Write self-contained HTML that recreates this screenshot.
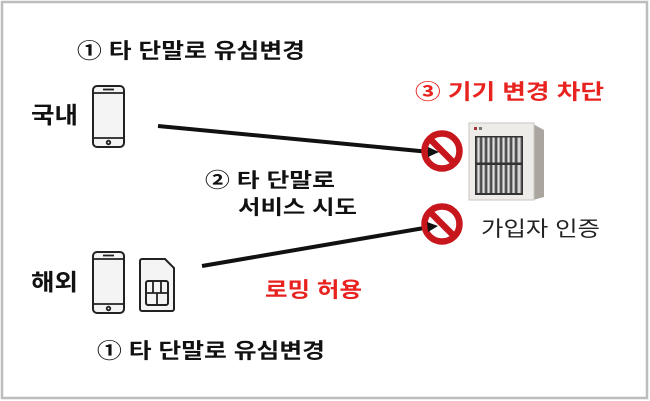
<!DOCTYPE html>
<html><head><meta charset="utf-8"><style>
html,body{margin:0;padding:0;background:#fff;}
svg{display:block;}
text{font-family:"Liberation Sans","Noto Sans CJK KR",sans-serif;}
</style></head><body>
<svg width="650" height="401" viewBox="0 0 650 401" xmlns="http://www.w3.org/2000/svg">
<defs>
<linearGradient id="dr" x1="0" x2="1" y1="0" y2="0">
<stop offset="0" stop-color="#555"/><stop offset="0.5" stop-color="#f2f2f2"/><stop offset="1" stop-color="#666"/>
</linearGradient>
</defs>
<rect x="2" y="2" width="645" height="396" fill="#fff" stroke="#bdbdbd" stroke-width="2.5"/>
<g font-weight="bold" fill="#111">
<text x="77" y="58" font-size="21" textLength="228" lengthAdjust="spacingAndGlyphs">① 타 단말로 유심변경</text>
<text x="31" y="123" font-size="23" textLength="47" lengthAdjust="spacingAndGlyphs">국내</text>
<text x="205" y="187" font-size="20" textLength="130" lengthAdjust="spacingAndGlyphs">② 타 단말로</text>
<text x="238" y="214" font-size="20" textLength="119" lengthAdjust="spacingAndGlyphs">서비스 시도</text>
<text x="31" y="290" font-size="23" textLength="47" lengthAdjust="spacingAndGlyphs">해외</text>
<text x="97" y="358" font-size="21" textLength="228" lengthAdjust="spacingAndGlyphs">① 타 단말로 유심변경</text>
</g>
<g font-weight="bold" fill="#e8231f">
<text x="415" y="99" font-size="21" textLength="189" lengthAdjust="spacingAndGlyphs">③  기기 변경 차단</text>
<text x="265" y="297" font-size="21" textLength="97" lengthAdjust="spacingAndGlyphs">로밍 허용</text>
</g>
<text x="481" y="236" font-size="21" fill="#222" textLength="119" lengthAdjust="spacingAndGlyphs">가입자 인증</text>

<g fill="#f4f4f4" stroke="#222" stroke-width="2">
<rect x="93" y="86" width="31" height="61" rx="4"/>
<rect x="93" y="252" width="31" height="61" rx="4"/>
</g>
<g stroke="#222" stroke-width="1.8" fill="none">
<line x1="93" y1="93" x2="124" y2="93"/><line x1="93" y1="138" x2="124" y2="138"/>
<line x1="93" y1="259" x2="124" y2="259"/><line x1="93" y1="304" x2="124" y2="304"/>
<line x1="103" y1="89.5" x2="114" y2="89.5"/><line x1="103" y1="255.5" x2="114" y2="255.5"/>
<circle cx="108.5" cy="142.5" r="1.8"/><circle cx="108.5" cy="308.5" r="1.8"/>
</g>
<path d="M142 259 H165 L174 268 V309 a2 2 0 0 1 -2 2 H142 a2 2 0 0 1 -2 -2 V261 a2 2 0 0 1 2 -2 Z" fill="#f4f4f4" stroke="#222" stroke-width="2"/>
<rect x="146" y="281" width="22" height="24" rx="2" fill="none" stroke="#222" stroke-width="2"/>
<path d="M146 293 H168 M153 281 V293 M161 281 V293 M157 293 V305" stroke="#222" stroke-width="1.8"/>

<line x1="158" y1="126" x2="430" y2="152" stroke="#111" stroke-width="4"/>
<line x1="202" y1="266" x2="430" y2="227" stroke="#111" stroke-width="4"/>

<path d="M533 124 L544 130 V197 L533 200 Z" fill="#aaa69f"/>
<rect x="469" y="123" width="65" height="77" fill="#eeece8" stroke="#c9c6c0"/>
<rect x="475" y="136" width="48" height="59" fill="#333"/>
<g fill="url(#dr)">
<rect x="476.5" y="137.5" width="4" height="25"/><rect x="481.5" y="137.5" width="4" height="25"/><rect x="486.5" y="137.5" width="4" height="25"/><rect x="491.5" y="137.5" width="4" height="25"/><rect x="496.5" y="137.5" width="4" height="25"/><rect x="501.5" y="137.5" width="4" height="25"/><rect x="506.5" y="137.5" width="4" height="25"/><rect x="511.5" y="137.5" width="4" height="25"/><rect x="516.5" y="137.5" width="5" height="25"/>
<rect x="476.5" y="165" width="4" height="28"/><rect x="481.5" y="165" width="4" height="28"/><rect x="486.5" y="165" width="4" height="28"/><rect x="491.5" y="165" width="4" height="28"/><rect x="496.5" y="165" width="4" height="28"/><rect x="501.5" y="165" width="4" height="28"/><rect x="506.5" y="165" width="4" height="28"/><rect x="511.5" y="165" width="4" height="28"/><rect x="516.5" y="165" width="5" height="28"/>
</g>
<rect x="474" y="127" width="3" height="3" fill="#a33"/><rect x="479" y="127" width="3" height="3" fill="#777"/>

<g fill="none" stroke="#c8161d" stroke-width="6.5">
<circle cx="442" cy="151" r="17.5"/>
<line x1="430" y1="139" x2="454" y2="163"/>
<circle cx="442" cy="224" r="17.5"/>
<line x1="430" y1="212" x2="454" y2="236"/>
</g>
<path d="M428 147 L439 152 L428 157 Z" fill="#111"/>
<path d="M427 222 L438 226 L428 232 Z" fill="#111"/>
</svg>
</body></html>
